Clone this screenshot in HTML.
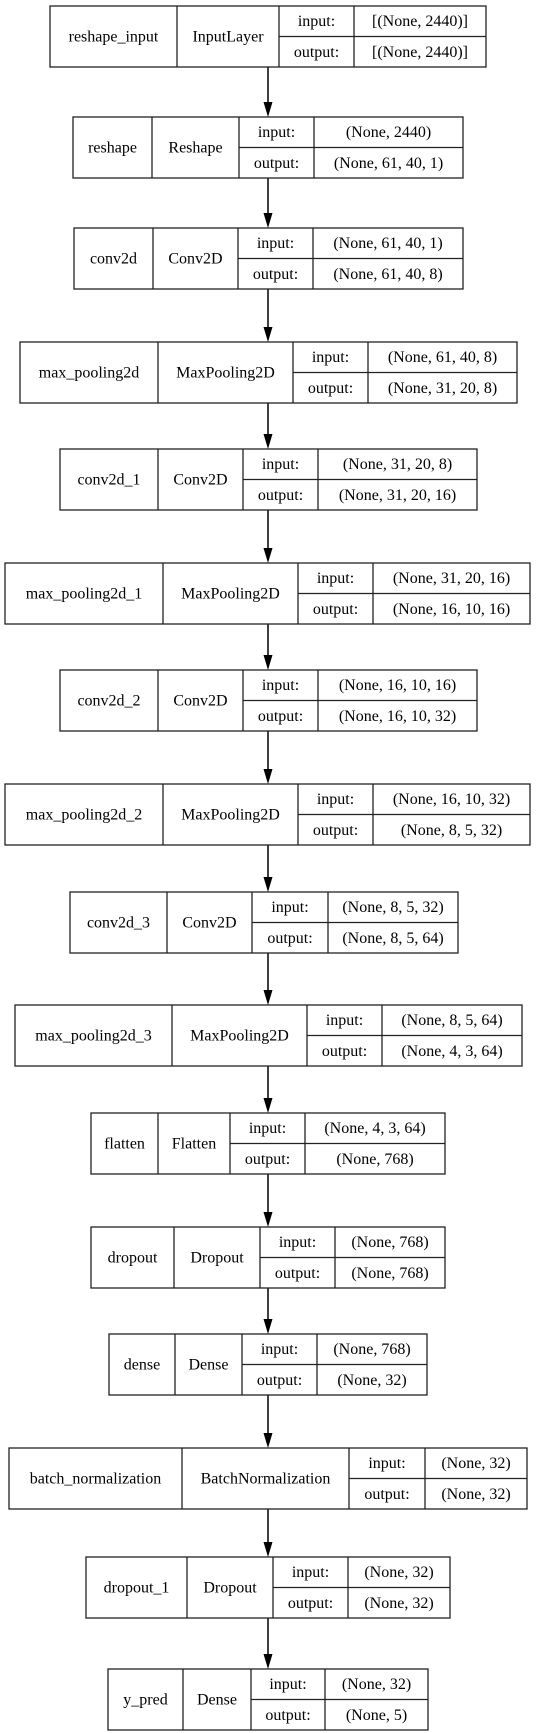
<!DOCTYPE html>
<html><head><meta charset="utf-8"><style>
html,body{margin:0;padding:0;background:#fff;}
svg{display:block;}
text{font-family:"Liberation Serif",serif;font-size:16px;fill:#000;text-anchor:middle;}
.b{fill:#fff;stroke:#222;stroke-width:1.3;}
.l{stroke:#222;stroke-width:1.3;}
.a{stroke:#404040;stroke-width:2;}
.h{fill:#000;}
</style></head><body>
<svg width="536" height="1733" viewBox="0 0 536 1733">
<g>
<line class="a" x1="268" y1="67" x2="268" y2="104"/><polygon class="h" points="263.5,102 272.5,102 268,117"/>
<line class="a" x1="268" y1="178" x2="268" y2="215"/><polygon class="h" points="263.5,213 272.5,213 268,228"/>
<line class="a" x1="268" y1="289" x2="268" y2="329"/><polygon class="h" points="263.5,327 272.5,327 268,342"/>
<line class="a" x1="268" y1="403" x2="268" y2="436"/><polygon class="h" points="263.5,434 272.5,434 268,449"/>
<line class="a" x1="268" y1="510" x2="268" y2="550"/><polygon class="h" points="263.5,548 272.5,548 268,563"/>
<line class="a" x1="268" y1="624" x2="268" y2="657"/><polygon class="h" points="263.5,655 272.5,655 268,670"/>
<line class="a" x1="268" y1="731" x2="268" y2="771"/><polygon class="h" points="263.5,769 272.5,769 268,784"/>
<line class="a" x1="268" y1="845" x2="268" y2="879"/><polygon class="h" points="263.5,877 272.5,877 268,892"/>
<line class="a" x1="268" y1="953" x2="268" y2="992"/><polygon class="h" points="263.5,990 272.5,990 268,1005"/>
<line class="a" x1="268" y1="1066" x2="268" y2="1100"/><polygon class="h" points="263.5,1098 272.5,1098 268,1113"/>
<line class="a" x1="268" y1="1174" x2="268" y2="1214"/><polygon class="h" points="263.5,1212 272.5,1212 268,1227"/>
<line class="a" x1="268" y1="1288" x2="268" y2="1321"/><polygon class="h" points="263.5,1319 272.5,1319 268,1334"/>
<line class="a" x1="268" y1="1395" x2="268" y2="1435"/><polygon class="h" points="263.5,1433 272.5,1433 268,1448"/>
<line class="a" x1="268" y1="1509" x2="268" y2="1544"/><polygon class="h" points="263.5,1542 272.5,1542 268,1557"/>
<line class="a" x1="268" y1="1618" x2="268" y2="1656"/><polygon class="h" points="263.5,1654 272.5,1654 268,1669"/>
</g>

<rect class="b" x="50" y="6" width="436" height="61"/>
<line class="l" x1="177" y1="6" x2="177" y2="67"/><line class="l" x1="279" y1="6" x2="279" y2="67"/><line class="l" x1="354" y1="6" x2="354" y2="67"/><line class="l" x1="279" y1="36.5" x2="486" y2="36.5"/>
<text x="113.5" y="41.5">reshape_input</text><text x="228" y="41.5">InputLayer</text><text x="316.5" y="26">input:</text><text x="316.5" y="57">output:</text><text x="420" y="26">[(None, 2440)]</text><text x="420" y="57">[(None, 2440)]</text>

<rect class="b" x="73" y="117" width="390" height="61"/>
<line class="l" x1="152" y1="117" x2="152" y2="178"/><line class="l" x1="239" y1="117" x2="239" y2="178"/><line class="l" x1="314" y1="117" x2="314" y2="178"/><line class="l" x1="239" y1="147.5" x2="463" y2="147.5"/>
<text x="112.5" y="152.5">reshape</text><text x="195.5" y="152.5">Reshape</text><text x="276.5" y="137">input:</text><text x="276.5" y="168">output:</text><text x="388.5" y="137">(None, 2440)</text><text x="388.5" y="168">(None, 61, 40, 1)</text>

<rect class="b" x="74" y="228" width="389" height="61"/>
<line class="l" x1="153" y1="228" x2="153" y2="289"/><line class="l" x1="238" y1="228" x2="238" y2="289"/><line class="l" x1="313" y1="228" x2="313" y2="289"/><line class="l" x1="238" y1="258.5" x2="463" y2="258.5"/>
<text x="113.5" y="263.5">conv2d</text><text x="195.5" y="263.5">Conv2D</text><text x="275.5" y="248">input:</text><text x="275.5" y="279">output:</text><text x="388" y="248">(None, 61, 40, 1)</text><text x="388" y="279">(None, 61, 40, 8)</text>

<rect class="b" x="20" y="342" width="497" height="61"/>
<line class="l" x1="158" y1="342" x2="158" y2="403"/><line class="l" x1="293" y1="342" x2="293" y2="403"/><line class="l" x1="368" y1="342" x2="368" y2="403"/><line class="l" x1="293" y1="372.5" x2="517" y2="372.5"/>
<text x="89" y="377.5">max_pooling2d</text><text x="225.5" y="377.5">MaxPooling2D</text><text x="330.5" y="362">input:</text><text x="330.5" y="393">output:</text><text x="442.5" y="362">(None, 61, 40, 8)</text><text x="442.5" y="393">(None, 31, 20, 8)</text>

<rect class="b" x="60" y="449" width="417" height="61"/>
<line class="l" x1="158" y1="449" x2="158" y2="510"/><line class="l" x1="243" y1="449" x2="243" y2="510"/><line class="l" x1="318" y1="449" x2="318" y2="510"/><line class="l" x1="243" y1="479.5" x2="477" y2="479.5"/>
<text x="109" y="484.5">conv2d_1</text><text x="200.5" y="484.5">Conv2D</text><text x="280.5" y="469">input:</text><text x="280.5" y="500">output:</text><text x="397.5" y="469">(None, 31, 20, 8)</text><text x="397.5" y="500">(None, 31, 20, 16)</text>

<rect class="b" x="5" y="563" width="525" height="61"/>
<line class="l" x1="163" y1="563" x2="163" y2="624"/><line class="l" x1="298" y1="563" x2="298" y2="624"/><line class="l" x1="373" y1="563" x2="373" y2="624"/><line class="l" x1="298" y1="593.5" x2="530" y2="593.5"/>
<text x="84" y="598.5">max_pooling2d_1</text><text x="230.5" y="598.5">MaxPooling2D</text><text x="335.5" y="583">input:</text><text x="335.5" y="614">output:</text><text x="451.5" y="583">(None, 31, 20, 16)</text><text x="451.5" y="614">(None, 16, 10, 16)</text>

<rect class="b" x="60" y="670" width="417" height="61"/>
<line class="l" x1="158" y1="670" x2="158" y2="731"/><line class="l" x1="243" y1="670" x2="243" y2="731"/><line class="l" x1="318" y1="670" x2="318" y2="731"/><line class="l" x1="243" y1="700.5" x2="477" y2="700.5"/>
<text x="109" y="705.5">conv2d_2</text><text x="200.5" y="705.5">Conv2D</text><text x="280.5" y="690">input:</text><text x="280.5" y="721">output:</text><text x="397.5" y="690">(None, 16, 10, 16)</text><text x="397.5" y="721">(None, 16, 10, 32)</text>

<rect class="b" x="5" y="784" width="525" height="61"/>
<line class="l" x1="163" y1="784" x2="163" y2="845"/><line class="l" x1="298" y1="784" x2="298" y2="845"/><line class="l" x1="373" y1="784" x2="373" y2="845"/><line class="l" x1="298" y1="814.5" x2="530" y2="814.5"/>
<text x="84" y="819.5">max_pooling2d_2</text><text x="230.5" y="819.5">MaxPooling2D</text><text x="335.5" y="804">input:</text><text x="335.5" y="835">output:</text><text x="451.5" y="804">(None, 16, 10, 32)</text><text x="451.5" y="835">(None, 8, 5, 32)</text>

<rect class="b" x="70" y="892" width="388" height="61"/>
<line class="l" x1="167" y1="892" x2="167" y2="953"/><line class="l" x1="252" y1="892" x2="252" y2="953"/><line class="l" x1="328" y1="892" x2="328" y2="953"/><line class="l" x1="252" y1="922.5" x2="458" y2="922.5"/>
<text x="118.5" y="927.5">conv2d_3</text><text x="209.5" y="927.5">Conv2D</text><text x="290" y="912">input:</text><text x="290" y="943">output:</text><text x="393" y="912">(None, 8, 5, 32)</text><text x="393" y="943">(None, 8, 5, 64)</text>

<rect class="b" x="15" y="1005" width="507" height="61"/>
<line class="l" x1="172" y1="1005" x2="172" y2="1066"/><line class="l" x1="307" y1="1005" x2="307" y2="1066"/><line class="l" x1="382" y1="1005" x2="382" y2="1066"/><line class="l" x1="307" y1="1035.5" x2="522" y2="1035.5"/>
<text x="93.5" y="1040.5">max_pooling2d_3</text><text x="239.5" y="1040.5">MaxPooling2D</text><text x="344.5" y="1025">input:</text><text x="344.5" y="1056">output:</text><text x="452" y="1025">(None, 8, 5, 64)</text><text x="452" y="1056">(None, 4, 3, 64)</text>

<rect class="b" x="91" y="1113" width="354" height="61"/>
<line class="l" x1="158" y1="1113" x2="158" y2="1174"/><line class="l" x1="230" y1="1113" x2="230" y2="1174"/><line class="l" x1="305" y1="1113" x2="305" y2="1174"/><line class="l" x1="230" y1="1143.5" x2="445" y2="1143.5"/>
<text x="124.5" y="1148.5">flatten</text><text x="194" y="1148.5">Flatten</text><text x="267.5" y="1133">input:</text><text x="267.5" y="1164">output:</text><text x="375" y="1133">(None, 4, 3, 64)</text><text x="375" y="1164">(None, 768)</text>

<rect class="b" x="91" y="1227" width="354" height="61"/>
<line class="l" x1="174" y1="1227" x2="174" y2="1288"/><line class="l" x1="260" y1="1227" x2="260" y2="1288"/><line class="l" x1="335" y1="1227" x2="335" y2="1288"/><line class="l" x1="260" y1="1257.5" x2="445" y2="1257.5"/>
<text x="132.5" y="1262.5">dropout</text><text x="217" y="1262.5">Dropout</text><text x="297.5" y="1247">input:</text><text x="297.5" y="1278">output:</text><text x="390" y="1247">(None, 768)</text><text x="390" y="1278">(None, 768)</text>

<rect class="b" x="109" y="1334" width="318" height="61"/>
<line class="l" x1="175" y1="1334" x2="175" y2="1395"/><line class="l" x1="242" y1="1334" x2="242" y2="1395"/><line class="l" x1="317" y1="1334" x2="317" y2="1395"/><line class="l" x1="242" y1="1364.5" x2="427" y2="1364.5"/>
<text x="142" y="1369.5">dense</text><text x="208.5" y="1369.5">Dense</text><text x="279.5" y="1354">input:</text><text x="279.5" y="1385">output:</text><text x="372" y="1354">(None, 768)</text><text x="372" y="1385">(None, 32)</text>

<rect class="b" x="9" y="1448" width="518" height="61"/>
<line class="l" x1="182" y1="1448" x2="182" y2="1509"/><line class="l" x1="349" y1="1448" x2="349" y2="1509"/><line class="l" x1="425" y1="1448" x2="425" y2="1509"/><line class="l" x1="349" y1="1478.5" x2="527" y2="1478.5"/>
<text x="95.5" y="1483.5">batch_normalization</text><text x="265.5" y="1483.5">BatchNormalization</text><text x="387" y="1468">input:</text><text x="387" y="1499">output:</text><text x="476" y="1468">(None, 32)</text><text x="476" y="1499">(None, 32)</text>

<rect class="b" x="86" y="1557" width="364" height="61"/>
<line class="l" x1="187" y1="1557" x2="187" y2="1618"/><line class="l" x1="273" y1="1557" x2="273" y2="1618"/><line class="l" x1="348" y1="1557" x2="348" y2="1618"/><line class="l" x1="273" y1="1587.5" x2="450" y2="1587.5"/>
<text x="136.5" y="1592.5">dropout_1</text><text x="230" y="1592.5">Dropout</text><text x="310.5" y="1577">input:</text><text x="310.5" y="1608">output:</text><text x="399" y="1577">(None, 32)</text><text x="399" y="1608">(None, 32)</text>

<rect class="b" x="108" y="1669" width="320" height="61"/>
<line class="l" x1="183" y1="1669" x2="183" y2="1730"/><line class="l" x1="251" y1="1669" x2="251" y2="1730"/><line class="l" x1="325" y1="1669" x2="325" y2="1730"/><line class="l" x1="251" y1="1699.5" x2="428" y2="1699.5"/>
<text x="145.5" y="1704.5">y_pred</text><text x="217" y="1704.5">Dense</text><text x="288" y="1689">input:</text><text x="288" y="1720">output:</text><text x="376.5" y="1689">(None, 32)</text><text x="376.5" y="1720">(None, 5)</text>
</svg>
</body></html>
